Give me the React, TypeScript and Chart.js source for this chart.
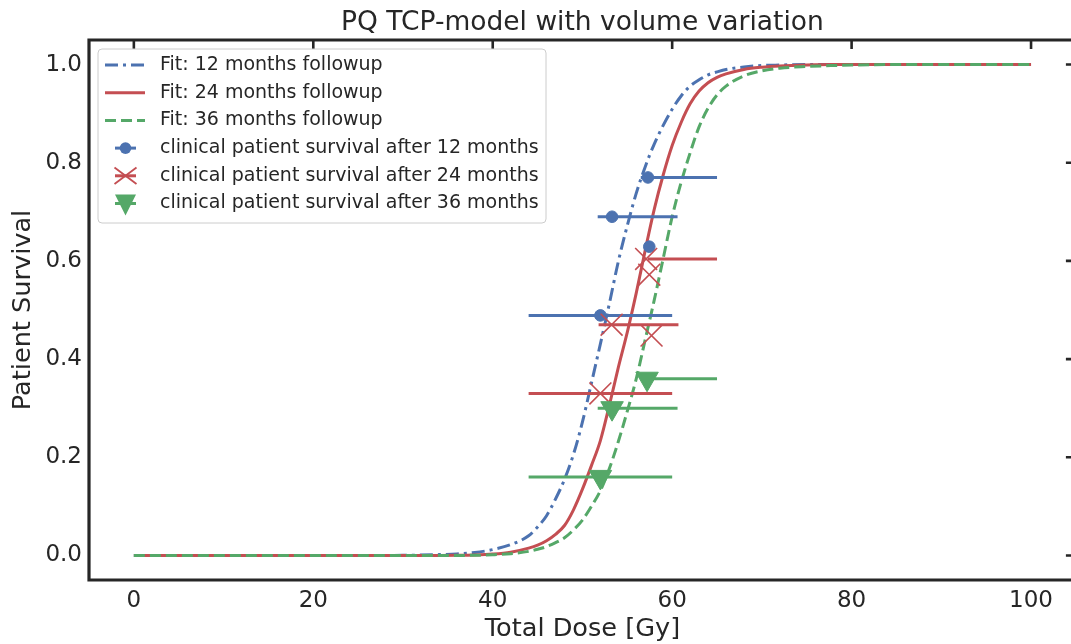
import React, { useEffect, useRef } from "react";
import { Chart, registerables } from "chart.js";

Chart.register(...registerables);

const FONT = "'DejaVu Sans', sans-serif";
const INK = "#262626";
const BLUE = "#4C72B0";
const RED = "#C44E52";
const GREEN = "#55A868";

const doseGrid = [0, 20, 30, 34, 36, 38, 40, 42, 44, 45, 46, 47, 48, 49, 50, 51, 52, 53, 54, 55, 56, 57, 58, 59, 60, 61, 62, 63, 64, 65, 66, 68, 70, 72, 75, 78, 80, 85, 90, 100];

const fit12 = [0, 0, 0.0002, 0.0017, 0.003, 0.006, 0.012, 0.022, 0.04, 0.058, 0.081, 0.115, 0.155, 0.206, 0.272, 0.351, 0.431, 0.513, 0.599, 0.672, 0.738, 0.792, 0.838, 0.876, 0.909, 0.936, 0.956, 0.969, 0.979, 0.985, 0.99, 0.995, 0.998, 0.999, 1, 1, 1, 1, 1, 1];
const fit24 = [0, 0, 0, 0.0001, 0.0003, 0.001, 0.0028, 0.0067, 0.015, 0.021, 0.03, 0.043, 0.061, 0.093, 0.135, 0.183, 0.234, 0.306, 0.383, 0.455, 0.535, 0.622, 0.705, 0.775, 0.835, 0.882, 0.92, 0.946, 0.963, 0.974, 0.981, 0.99, 0.9945, 0.997, 0.999, 1, 1, 1, 1, 1];
const fit36 = [0, 0, 0, 0, 0.0001, 0.0003, 0.0014, 0.0036, 0.0083, 0.0125, 0.018, 0.026, 0.036, 0.052, 0.072, 0.1, 0.132, 0.177, 0.232, 0.294, 0.36, 0.44, 0.52, 0.605, 0.69, 0.76, 0.82, 0.873, 0.911, 0.938, 0.956, 0.977, 0.987, 0.9926, 0.996, 0.998, 0.999, 1, 1, 1];

// Clinical data: dose, survival, dose range (error bar lo/hi; null = no bar)
const clin12Dose = [57.3, 53.3, 57.45, 52.0];
const clin12Surv = [0.77, 0.69, 0.629, 0.489];
const clin12Lo = [56.5, 51.7, null, 44.0];
const clin12Hi = [65.0, 60.6, null, 60.0];

const clin24Dose = [57.1, 57.45, 53.25, 57.7, 52.0];
const clin24Surv = [0.604, 0.572, 0.47, 0.448, 0.33];
const clin24Lo = [57.3, null, 51.8, null, 44.0];
const clin24Hi = [65.0, null, 60.7, null, 60.0];

const clin36Dose = [57.2, 53.3, 52.0];
const clin36Surv = [0.36, 0.3, 0.16];
const clin36Lo = [57.2, 51.7, 44.0];
const clin36Hi = [65.0, 60.6, 60.0];

const xTicks = [0, 20, 40, 60, 80, 100];
const yTicks = [0, 0.2, 0.4, 0.6, 0.8, 1.0];

const legendLabels = [
  "Fit: 12 months followup",
  "Fit: 24 months followup",
  "Fit: 36 months followup",
  "clinical patient survival after 12 months",
  "clinical patient survival after 24 months",
  "clinical patient survival after 36 months",
];

const toXY = (xs: number[], ys: number[]) => xs.map((x, i) => ({ x, y: ys[i] }));

function drawMarker(ctx: CanvasRenderingContext2D, kind: string, x: number, y: number, color: string) {
  ctx.save();
  ctx.setLineDash([]);
  if (kind === "circle") {
    ctx.fillStyle = color;
    ctx.beginPath();
    ctx.arc(x, y, 5.8, 0, Math.PI * 2);
    ctx.fill();
  } else if (kind === "cross") {
    ctx.strokeStyle = color;
    ctx.lineWidth = 1.8;
    const r = 11;
    ctx.beginPath();
    ctx.moveTo(x - r, y - r * 0.75);
    ctx.lineTo(x + r, y + r * 0.75);
    ctx.moveTo(x - r, y + r * 0.75);
    ctx.lineTo(x + r, y - r * 0.75);
    ctx.stroke();
  } else {
    ctx.fillStyle = color;
    ctx.beginPath();
    ctx.moveTo(x - 10.5, y - 9);
    ctx.lineTo(x + 10.5, y - 9);
    ctx.lineTo(x, y + 12);
    ctx.closePath();
    ctx.fill();
  }
  ctx.restore();
}

const decorPlugin = {
  id: "decor",
  afterDraw(chart: any) {
    const { ctx, chartArea } = chart;
    const { left, right, top, bottom } = chartArea;
    const xs = chart.scales.x;
    const ys = chart.scales.y;
    ctx.save();
    // spines
    ctx.strokeStyle = INK;
    ctx.lineWidth = 3.2;
    ctx.setLineDash([]);
    ctx.beginPath();
    ctx.moveTo(left, top);
    ctx.lineTo(right, top);
    ctx.lineTo(right, bottom);
    ctx.lineTo(left, bottom);
    ctx.closePath();
    ctx.stroke();
    // inward ticks on top and right
    ctx.lineWidth = 2.6;
    ctx.beginPath();
    xTicks.forEach((v) => {
      const px = xs.getPixelForValue(v);
      ctx.moveTo(px, top);
      ctx.lineTo(px, top + 9);
    });
    yTicks.forEach((v) => {
      const py = ys.getPixelForValue(v);
      ctx.moveTo(right, py);
      ctx.lineTo(right - 10, py);
    });
    ctx.stroke();

    // title
    ctx.fillStyle = INK;
    ctx.font = `26.5px ${FONT}`;
    ctx.textAlign = "center";
    ctx.textBaseline = "alphabetic";
    ctx.fillText("PQ TCP-model with volume variation", (left + right) / 2, 30);

    // legend
    const lx = 98, ly = 49, lw = 448, lh = 174, rr = 4;
    ctx.beginPath();
    ctx.moveTo(lx + rr, ly);
    ctx.lineTo(lx + lw - rr, ly);
    ctx.quadraticCurveTo(lx + lw, ly, lx + lw, ly + rr);
    ctx.lineTo(lx + lw, ly + lh - rr);
    ctx.quadraticCurveTo(lx + lw, ly + lh, lx + lw - rr, ly + lh);
    ctx.lineTo(lx + rr, ly + lh);
    ctx.quadraticCurveTo(lx, ly + lh, lx, ly + lh - rr);
    ctx.lineTo(lx, ly + rr);
    ctx.quadraticCurveTo(lx, ly, lx + rr, ly);
    ctx.closePath();
    ctx.fillStyle = "rgba(255,255,255,0.8)";
    ctx.fill();
    ctx.strokeStyle = "#cccccc";
    ctx.lineWidth = 1;
    ctx.stroke();

    const rowY = (i: number) => 65 + i * 27.7;
    const lineStyles: [string, number[]][] = [
      [BLUE, [13, 5, 3, 5]],
      [RED, []],
      [GREEN, [11, 5]],
    ];
    lineStyles.forEach(([c, dash], i) => {
      ctx.save();
      ctx.strokeStyle = c;
      ctx.lineWidth = 3;
      ctx.setLineDash(dash);
      ctx.beginPath();
      ctx.moveTo(105, rowY(i));
      ctx.lineTo(145, rowY(i));
      ctx.stroke();
      ctx.restore();
    });
    const marks: [string, string][] = [
      [BLUE, "circle"],
      [RED, "cross"],
      [GREEN, "triangle"],
    ];
    marks.forEach(([c, k], j) => {
      const y = rowY(3 + j);
      ctx.save();
      ctx.strokeStyle = c;
      ctx.lineWidth = 3;
      ctx.beginPath();
      ctx.moveTo(115, y);
      ctx.lineTo(136, y);
      ctx.stroke();
      ctx.restore();
      drawMarker(ctx, k, 125.5, y, c);
    });
    ctx.fillStyle = INK;
    ctx.font = `19px ${FONT}`;
    ctx.textAlign = "left";
    ctx.textBaseline = "middle";
    legendLabels.forEach((t, i) => ctx.fillText(t, 160, rowY(i)));
    ctx.restore();
  },
};

export default function App() {
  const ref = useRef<HTMLCanvasElement>(null);
  useEffect(() => {
    const canvas = ref.current;
    if (!canvas) return;
    const datasets: any[] = [];
    const push = (d: any) => {
      d.order = 1000 - datasets.length;
      datasets.push(d);
    };
    const curve = (label: string, ys: number[], color: string, dash: number[]) =>
      push({
        type: "line",
        label,
        data: toXY(doseGrid, ys),
        borderColor: color,
        borderWidth: 3,
        borderDash: dash,
        borderCapStyle: "butt",
        pointRadius: 0,
        cubicInterpolationMode: "monotone",
        fill: false,
      });
    curve(legendLabels[0], fit12, BLUE, [13, 5, 3, 5]);
    curve(legendLabels[1], fit24, RED, []);
    curve(legendLabels[2], fit36, GREEN, [11, 5]);

    const series = [
      { dose: clin12Dose, surv: clin12Surv, lo: clin12Lo, hi: clin12Hi, color: BLUE, style: "circle", radius: 5.8, rot: 0, bw: 1 },
      { dose: clin24Dose, surv: clin24Surv, lo: clin24Lo, hi: clin24Hi, color: RED, style: "crossRot", radius: 15.5, rot: 0, bw: 1.6 },
      { dose: clin36Dose, surv: clin36Surv, lo: clin36Lo, hi: clin36Hi, color: GREEN, style: "triangle", radius: 13, rot: 180, bw: 1 },
    ];
    series.forEach((s, si) => {
      s.dose.forEach((_, i) => {
        const lo = s.lo[i];
        const hi = s.hi[i];
        if (lo == null || hi == null) return;
        push({
          type: "line",
          label: `bar${si}-${i}`,
          data: [
            { x: lo, y: s.surv[i] },
            { x: hi, y: s.surv[i] },
          ],
          borderColor: s.color,
          borderWidth: 3,
          pointRadius: 0,
          fill: false,
        });
      });
      push({
        type: "scatter",
        label: legendLabels[3 + si],
        data: toXY(s.dose, s.surv),
        pointStyle: s.style,
        pointRadius: s.radius,
        pointRotation: s.rot,
        backgroundColor: s.color,
        borderColor: s.color,
        pointBorderWidth: s.bw,
        showLine: false,
      });
    });

    const chart = new Chart(canvas, {
      type: "line",
      data: { datasets },
      options: {
        animation: false,
        responsive: false,
        devicePixelRatio: 1,
        events: [],
        layout: { padding: { top: 40, right: 14, left: 0, bottom: 0 } },
        plugins: {
          legend: { display: false },
          tooltip: { enabled: false },
          title: { display: false },
        },
        scales: {
          x: {
            type: "linear",
            min: -5,
            max: 105,
            grid: { display: false, drawTicks: false },
            border: { display: false },
            afterBuildTicks: (s: any) => {
              s.ticks = xTicks.map((v) => ({ value: v }));
            },
            ticks: {
              color: INK,
              font: { family: FONT, size: 23 },
              padding: 7,
              maxRotation: 0,
              autoSkip: false,
              callback: (v: any) => String(v),
            },
            title: {
              display: true,
              text: "Total Dose [Gy]",
              color: INK,
              font: { family: FONT, size: 25.6, lineHeight: 1.0 },
              padding: { top: 0, bottom: 2 },
            },
            afterFit: (s: any) => {
              s.height = 64;
            },
          },
          y: {
            type: "linear",
            min: -0.05,
            max: 1.05,
            grid: { display: false, drawTicks: false },
            border: { display: false },
            afterBuildTicks: (s: any) => {
              s.ticks = yTicks.map((v) => ({ value: v }));
            },
            ticks: {
              color: INK,
              font: { family: FONT, size: 23 },
              padding: 7,
              autoSkip: false,
              callback: (v: any) => Number(v).toFixed(1),
            },
            title: {
              display: true,
              text: "Patient Survival",
              color: INK,
              font: { family: FONT, size: 25.6 },
              padding: { top: 8, bottom: 0 },
            },
            afterFit: (s: any) => {
              s.width = 89;
            },
          },
        },
      } as any,
      plugins: [decorPlugin],
    });
    return () => chart.destroy();
  }, []);

  return (
    <div
      style={{
        position: "fixed",
        left: 0,
        top: 0,
        width: 1071,
        height: 644,
        overflow: "hidden",
        background: "#ffffff",
      }}
    >
      <canvas ref={ref} width={1093} height={644} style={{ display: "block" }} />
    </div>
  );
}
